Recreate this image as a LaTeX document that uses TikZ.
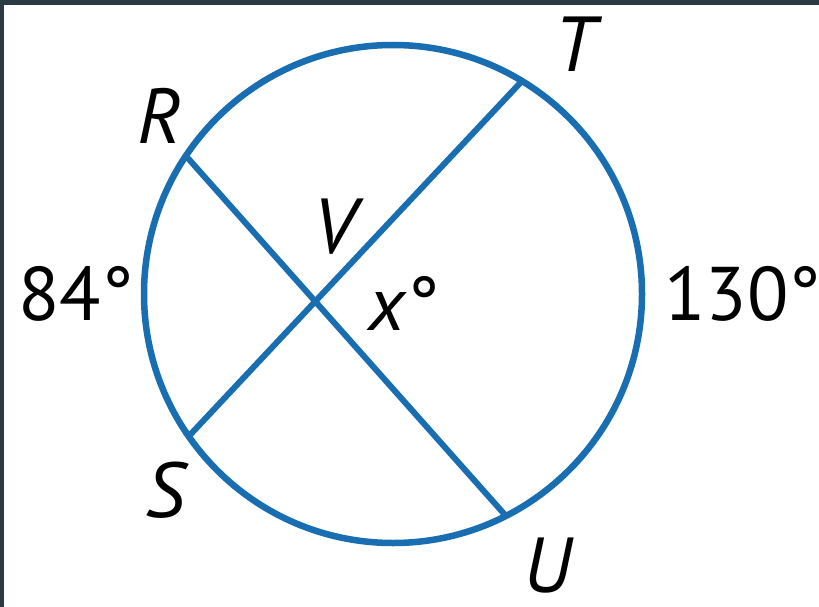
\documentclass[tikz,border=0pt]{standalone}
\usepackage{fontspec}
\setmainfont{PT Sans}
\definecolor{chordblue}{RGB}{24,110,176}
\definecolor{framedark}{RGB}{44,58,68}

\begin{document}
\begin{tikzpicture}[x=1pt,y=-1pt,
  rim/.style={draw=chordblue,line width=6.5pt},
  chord/.style={draw=chordblue,line width=6pt},
  ptlabel/.style={font=\fontsize{78}{80}\selectfont\itshape,inner sep=0pt},
  arclabel/.style={font=\fontsize{76}{80}\selectfont,inner sep=0pt,anchor=base west}]
\useasboundingbox (0,0) rectangle (819,607);
\fill[white] (0,0) rectangle (819,607);
%frame edges
\fill[framedark] (0,0) rectangle (819,5);
\fill[framedark] (0,0) rectangle (4,607);

  \coordinate (O) at (393,294);
  \coordinate (R) at (186,156);
  \coordinate (T) at (522,81);
  \coordinate (S) at (189,436);
  \coordinate (U) at (506,516);

  \draw[rim] (O) circle (249);
  \draw[chord] (R) -- (U);
  \draw[chord] (T) -- (S);

  %point labels
  \node[ptlabel] (labR) at (160,116) {R};
  \node[ptlabel] (labT) at (575,44) {T};
  \node[ptlabel] (labV) at (335,227) {V};
  \node[ptlabel] (labS) at (165,490) {S};
  \node[ptlabel] (labU) at (548,566) {U};

  %arc and angle measures
  \node[arclabel] (arcRS) at (18,320) {84°};
  \node[arclabel] (arcTU) at (664,320) {130°};
  \node[arclabel] (angV) at (368,330) {\textit{x}°};
\end{tikzpicture}
\end{document}
